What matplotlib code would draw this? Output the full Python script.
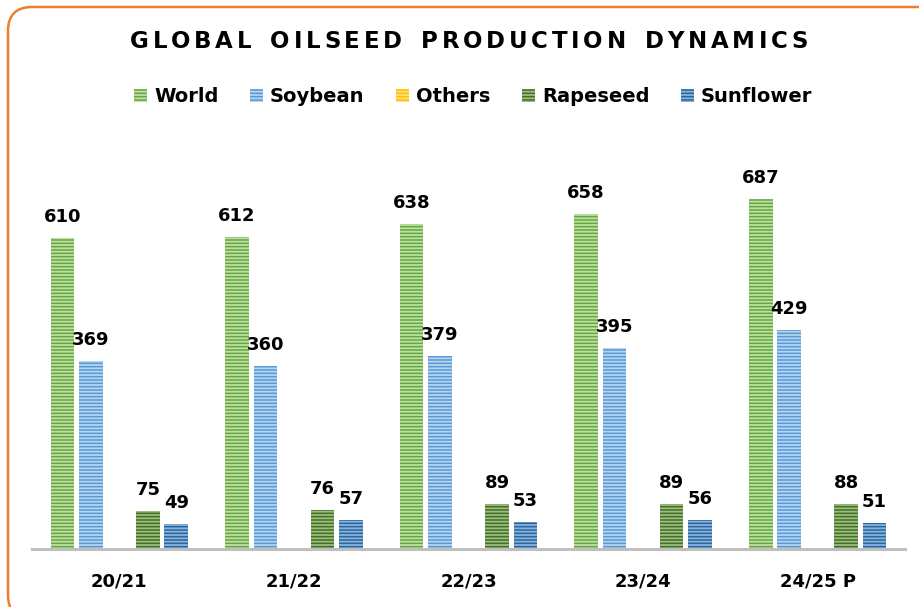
import numpy as np
import matplotlib
matplotlib.use("Agg")
import matplotlib.pyplot as plt
from matplotlib.patches import Patch, FancyBboxPatch
from matplotlib.transforms import IdentityTransform

# datos
seasons = ["20/21", "21/22", "22/23", "23/24", "24/25 P"]
world = [610, 612, 638, 658, 687]
soybean = [369, 360, 379, 395, 429]
others = [0, 0, 0, 0, 0]
rapeseed = [75, 76, 89, 89, 88]
sunflower = [49, 57, 53, 56, 51]

names = ["World", "Soybean", "Others", "Rapeseed", "Sunflower"]
series = [world, soybean, others, rapeseed, sunflower]
fills = ["#68a640", "#5898d3", "#ffc000", "#466f26", "#2a679c"]
stripes = ["#bde0a6", "#b5d4f2", "#ffe080", "#9abd80", "#86b2dd"]

plt.rcParams['hatch.linewidth'] = 1.3
plt.rcParams['font.family'] = 'DejaVu Sans'

W, H = 919, 607
fig = plt.figure(figsize=(W / 100, H / 100), dpi=100)

# marco naranja redondeado
marco = FancyBboxPatch((8, -12), 935, H - 7 + 12, boxstyle="round,pad=0,rounding_size=24",
                       transform=IdentityTransform(), facecolor="none",
                       edgecolor="#ee7d31", linewidth=1.8)
fig.patches.append(marco)

ax = fig.add_axes([32 / W, (H - 549) / H, 873 / W, 377 / H])
x = np.arange(len(seasons))
step = 0.163
bw = 0.135
for i, (nm, vals) in enumerate(zip(names, series)):
    pos = x + (i - 2) * step
    ax.bar(pos, vals, bw, color=fills[i], edgecolor=stripes[i], linewidth=0,
           hatch='-----', label=nm)
    for px, v in zip(pos, vals):
        if v > 0:
            ax.annotate(str(v), (px, v), xytext=(0, 11.5), textcoords='offset points',
                        ha='center', va='baseline', fontsize=13, fontweight='bold')

ax.set_xlim(-0.5, 4.5)
ax.set_ylim(0, 740)
ax.set_yticks([])
ax.set_xticks(x)
ax.set_xticklabels(seasons, fontsize=13, fontweight='bold')
ax.tick_params(axis='x', length=0, pad=17)
for s in ['top', 'right', 'left']:
    ax.spines[s].set_visible(False)
ax.spines['bottom'].set_color('#bfbfbf')
ax.spines['bottom'].set_linewidth(2.2)
ax.patch.set_alpha(0)

handles = [Patch(facecolor=fills[i], edgecolor=stripes[i], linewidth=0, hatch='-----')
           for i in range(5)]
fig.legend(handles, names, loc='center', bbox_to_anchor=(473 / W, 1 - 97 / H), ncol=5,
           frameon=False, prop={'weight': 'bold', 'size': 14}, handlelength=0.7,
           handleheight=0.7, handletextpad=0.35, columnspacing=1.6, borderpad=0)

# titulo con espaciado entre letras
fig.canvas.draw()
r = fig.canvas.get_renderer()
title = "GLOBAL OILSEED PRODUCTION DYNAMICS"
tfont = dict(fontsize=16.5, fontweight='bold', family='DejaVu Sans')
anchos = {}
for ch in set(title.replace(' ', '')):
    t = fig.text(0, 0, ch, transform=IdentityTransform(), **tfont)
    anchos[ch] = t.get_window_extent(r).width
    t.remove()
palabras = title.split(' ')
suma = sum(anchos[c] for c in title if c != ' ')
n_gaps = sum(len(p) - 1 for p in palabras)
hueco_pal = 19
g = (678 - suma - hueco_pal * (len(palabras) - 1)) / n_gaps
xp = 130
y0 = H - 48.5
for pi, p in enumerate(palabras):
    for ci, ch in enumerate(p):
        fig.text(xp, y0, ch, transform=IdentityTransform(), ha='left', va='baseline', **tfont)
        xp += anchos[ch]
        if ci < len(p) - 1:
            xp += g
    xp += hueco_pal

fig.savefig("out.png", dpi=100)
